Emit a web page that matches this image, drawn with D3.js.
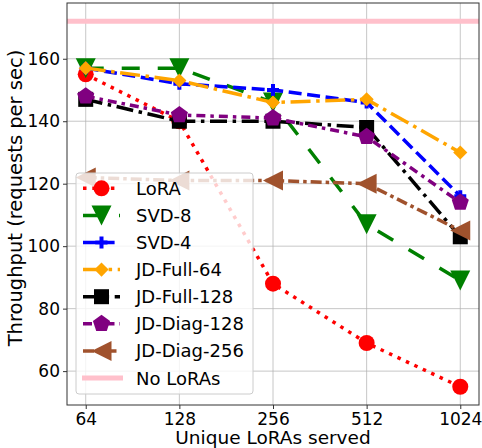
<!DOCTYPE html>
<html>
<head>
<meta charset="utf-8">
<script src="https://cdn.jsdelivr.net/npm/d3@7"></script>
<style>
  body { margin: 0; background: #fff; }
  svg { display: block; font-family: "DejaVu Sans", sans-serif; }
</style>
</head>
<body>
<svg id="svg"></svg>
<script>
// data
const served = [64, 128, 256, 512, 1024];
const xTicks = [64, 128, 256, 512, 1024];
const yTicks = [60, 80, 100, 120, 140, 160];

const lora = [155, 140, 88, 69, 55];
const svd8 = [157, 157, 146, 107, 89];
const svd4 = [157, 152, 150, 146, 116];
const jdFull64 = [157, 153, 146, 147, 130];
const jdFull128 = [147, 140, 140, 138, 103];
const jdDiag128 = [148, 142, 141, 135, 114];
const jdDiag256 = [122, 121, 121, 120, 105];
const noLoras = 172;

const seriesNames = ["LoRA", "SVD-8", "SVD-4", "JD-Full-64", "JD-Full-128", "JD-Diag-128", "JD-Diag-256"];
const seriesValues = [lora, svd8, svd4, jdFull64, jdFull128, jdDiag128, jdDiag256];

// look of each series
const styles = [
    { color: "red", dash: "3.5,5.8", marker: "circle", size: 16 },
    { color: "green", dash: "18,18", marker: "triDown", size: 20 },
    { color: "blue", dash: "13,5.6", marker: "plus", size: 12 },
    { color: "orange", dash: "20,5.6,3.5,5.6", marker: "diamond", size: 10 },
    { color: "black", dash: "17,5.6,3.5,5.6", marker: "square", size: 15 },
    { color: "purple", dash: "9,5,3.5,5", marker: "pentagon", size: 18 },
    { color: "sienna", dash: "11,4,3.5,4", marker: "triLeft", size: 20 }
];

let svg = d3.select("#svg");
let width = 482;
let height = 448;
svg.attr("width", width).attr("height", height);

const plotLeft = 67, plotRight = 479, plotTop = 3, plotBottom = 405;

// matplotlib style 5% margins
let x = d3.scaleLog().base(2)
    .domain([64 / Math.pow(2, 0.2), 1024 * Math.pow(2, 0.2)])
    .range([plotLeft, plotRight]);
let y = d3.scaleLinear()
    .domain([49.15, 177.85])
    .range([plotBottom, plotTop]);

function markerPath(type, s) {
    let h = s / 2;
    if (type === "circle") {
        return d3.symbol(d3.symbolCircle, Math.PI * h * h)();
    }
    if (type === "square") {
        return `M${-h},${-h}H${h}V${h}H${-h}Z`;
    }
    if (type === "diamond") {
        let d = h * Math.SQRT2;
        return `M0,${-d}L${d},0L0,${d}L${-d},0Z`;
    }
    if (type === "triDown") {
        return `M${-h},${-h}L${h},${-h}L0,${h}Z`;
    }
    if (type === "triLeft") {
        return `M${-h},0L${h},${-h}L${h},${h}Z`;
    }
    if (type === "pentagon") {
        let pts = d3.range(5).map(i => {
            let a = -Math.PI / 2 + i * 2 * Math.PI / 5;
            return [h * Math.cos(a), h * Math.sin(a)];
        });
        return "M" + pts.join("L") + "Z";
    }
    if (type === "plus") {
        let t = s / 6;
        return `M${-t},${-h}H${t}V${-t}H${h}V${t}H${t}V${h}H${-t}V${t}H${-h}V${-t}H${-t}Z`;
    }
}

// grid
let grid = svg.append("g");
xTicks.forEach(t => {
    grid.append("line")
        .attr("x1", x(t)).attr("x2", x(t))
        .attr("y1", plotTop).attr("y2", plotBottom)
        .attr("stroke", "#b0b0b0").attr("stroke-width", 1).attr("opacity", 0.7);
});
yTicks.forEach(t => {
    grid.append("line")
        .attr("x1", plotLeft).attr("x2", plotRight)
        .attr("y1", y(t)).attr("y2", y(t))
        .attr("stroke", "#b0b0b0").attr("stroke-width", 1).attr("opacity", 0.7);
});

// series
let line = d3.line()
    .x((d, i) => x(served[i]))
    .y(d => y(d));

seriesValues.forEach((vals, k) => {
    let st = styles[k];
    let g = svg.append("g");
    g.append("path")
        .attr("d", line(vals))
        .attr("fill", "none")
        .attr("stroke", st.color)
        .attr("stroke-width", 3.5)
        .attr("stroke-dasharray", st.dash);
    g.selectAll(".m")
        .data(vals)
        .join("path")
        .attr("transform", (d, i) => `translate(${x(served[i])},${y(d)})`)
        .attr("d", markerPath(st.marker, st.size))
        .attr("fill", st.color);
});

// no loras reference line
svg.append("line")
    .attr("x1", plotLeft).attr("x2", plotRight)
    .attr("y1", y(noLoras)).attr("y2", y(noLoras))
    .attr("stroke", "pink").attr("stroke-width", 5);

// frame
svg.append("rect")
    .attr("x", plotLeft).attr("y", plotTop)
    .attr("width", plotRight - plotLeft).attr("height", plotBottom - plotTop)
    .attr("fill", "none").attr("stroke", "#333").attr("stroke-width", 1);

// axes
let xAxis = svg.append("g")
    .attr("transform", `translate(0,${plotBottom})`)
    .call(d3.axisBottom(x).tickValues(xTicks).tickFormat(d3.format("d")).tickSize(4).tickSizeOuter(0));
let yAxis = svg.append("g")
    .attr("transform", `translate(${plotLeft},0)`)
    .call(d3.axisLeft(y).tickValues(yTicks).tickSize(4).tickSizeOuter(0));
[xAxis, yAxis].forEach(a => {
    a.attr("font-family", "DejaVu Sans").attr("font-size", 17);
    a.select(".domain").remove();
    a.selectAll("line").attr("stroke", "#333");
    a.selectAll("text").attr("fill", "#000");
});
xAxis.selectAll("text").attr("y", 4).attr("dy", "0.93em");
yAxis.selectAll("text").attr("x", -7);

svg.append("text")
    .attr("x", (plotLeft + plotRight) / 2).attr("y", 444)
    .attr("text-anchor", "middle")
    .attr("font-size", 18.5)
    .text("Unique LoRAs served");

svg.append("text")
    .attr("transform", `translate(22,198) rotate(-90)`)
    .attr("text-anchor", "middle")
    .attr("font-size", 19.5)
    .text("Throughput (requests per sec)");

// legend
let legend = svg.append("g");
legend.append("rect")
    .attr("x", 76).attr("y", 173)
    .attr("width", 177).attr("height", 221)
    .attr("rx", 3)
    .attr("fill", "white").attr("fill-opacity", 0.8)
    .attr("stroke", "#ccc").attr("stroke-width", 1);

let rowY = i => 188.3 + i * 27.1;
seriesNames.forEach((name, k) => {
    let st = styles[k];
    let ry = rowY(k);
    legend.append("line")
        .attr("x1", 83).attr("x2", 120)
        .attr("y1", ry).attr("y2", ry)
        .attr("stroke", st.color).attr("stroke-width", 3.5)
        .attr("stroke-dasharray", st.dash);
    legend.append("path")
        .attr("transform", `translate(101.5,${ry})`)
        .attr("d", markerPath(st.marker, st.size))
        .attr("fill", st.color);
    legend.append("text")
        .attr("x", 136).attr("y", ry)
        .attr("dominant-baseline", "central")
        .attr("font-size", 18)
        .text(name);
});
legend.append("line")
    .attr("x1", 82).attr("x2", 123)
    .attr("y1", rowY(7)).attr("y2", rowY(7))
    .attr("stroke", "pink").attr("stroke-width", 5);
legend.append("text")
    .attr("x", 136).attr("y", rowY(7))
    .attr("dominant-baseline", "central")
    .attr("font-size", 18)
    .text("No LoRAs");
</script>
</body>
</html>
